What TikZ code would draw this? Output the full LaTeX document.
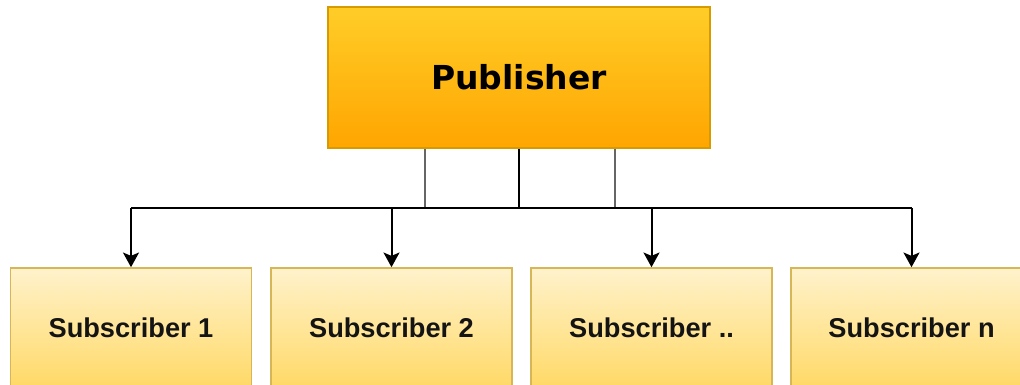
\documentclass[tikz,border=0pt]{standalone}
\usepackage{fontspec}
\usetikzlibrary{arrows.meta}
\newfontfamily\pubfont{DejaVu Sans}
\newfontfamily\subfont{Liberation Sans}

\definecolor{pubtop}{HTML}{FFCD28}
\definecolor{pubbot}{HTML}{FFA500}
\definecolor{publine}{HTML}{D79B00}
\definecolor{subtop}{HTML}{FFF2CC}
\definecolor{subbot}{HTML}{FFD966}
\definecolor{subline}{HTML}{D6B656}

\tikzset{
  pubbox/.style={draw=publine, line width=1.2pt, top color=pubtop, bottom color=pubbot,
    minimum width=382*0.75pt, minimum height=141*0.75pt, inner sep=0pt,
    font=\pubfont\bfseries\fontsize{24.75}{30}\selectfont},
  subbox/.style={draw=subline, line width=1.2pt, top color=subtop, bottom color=subbot,
    minimum width=241*0.75pt, minimum height=120*0.75pt, inner sep=0pt,
    font=\subfont\bfseries\fontsize{20.4}{24}\selectfont, text=black!92},
  wire/.style={line width=1.5pt, black},
  feed/.style={wire, -{Stealth[length=11pt, width=12pt, inset=2.5pt]}}
}

\begin{document}
\begin{tikzpicture}[x=0.75pt, y=-0.75pt]
  \useasboundingbox (0,0) rectangle (1020,385);
  \clip (0,0) rectangle (1020,385);

  % publisher and its subscribers
  \node[pubbox] (pub) at (519,77.5) {Publisher};
  \node[subbox] (s1) at (131,328) {Subscriber 1};
  \node[subbox] (s2) at (391.5,328) {Subscriber 2};
  \node[subbox] (s3) at (651.5,328) {Subscriber ..};
  \node[subbox] (s4) at (911.5,328) {Subscriber n};

  % junctions on the distribution bus
  \coordinate (j1) at (425,208);
  \coordinate (j2) at (519,208);
  \coordinate (j3) at (615,208);

  % drops from the publisher onto the bus
  \draw[wire, black!60] (pub.south -| j1) -- (j1);
  \draw[wire] (pub.south -| j2) -- (j2);
  \draw[wire, black!60] (pub.south -| j3) -- (j3);

  % bus line
  \draw[wire] (s1.north |- j1) -- (s4.north |- j1);

  % feeds to each subscriber
  \foreach \s in {s1,s2,s3,s4}
    \draw[feed] (\s.north |- j1) -- (\s.north);
\end{tikzpicture}
\end{document}
